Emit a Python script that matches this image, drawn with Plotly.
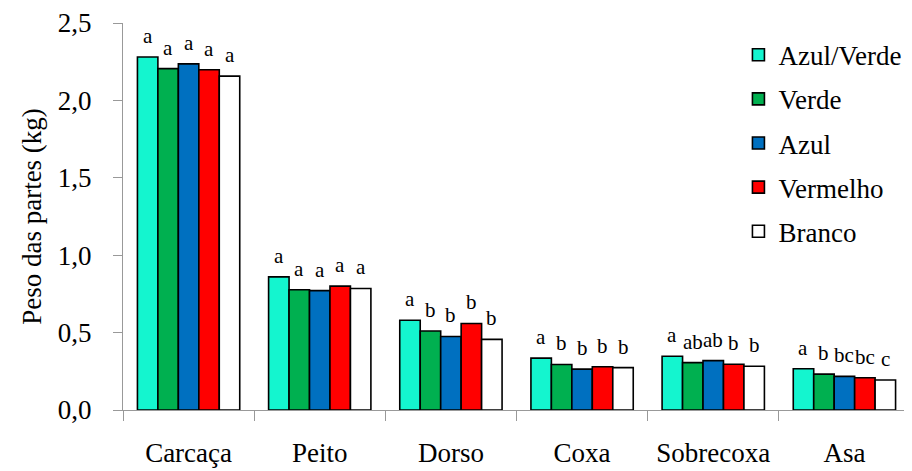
import plotly.graph_objects as go

categories = ["Carcaça", "Peito", "Dorso", "Coxa", "Sobrecoxa", "Asa"]
series_names = ["Azul/Verde", "Verde", "Azul", "Vermelho", "Branco"]
azul_verde = [2.28, 0.86, 0.58, 0.335, 0.347, 0.266]
verde = [2.205, 0.777, 0.51, 0.294, 0.306, 0.232]
azul = [2.236, 0.771, 0.475, 0.264, 0.319, 0.217]
vermelho = [2.198, 0.80, 0.559, 0.279, 0.296, 0.208]
branco = [2.157, 0.785, 0.456, 0.274, 0.283, 0.194]
letters_azul_verde = ["a", "a", "a", "a", "a", "a"]
letters_verde = ["a", "a", "b", "b", "ab", "b"]
letters_azul = ["a", "a", "b", "b", "ab", "bc"]
letters_vermelho = ["a", "a", "b", "b", "b", "bc"]
letters_branco = ["a", "a", "b", "b", "b", "c"]

values = [azul_verde, verde, azul, vermelho, branco]
letters = [letters_azul_verde, letters_verde, letters_azul, letters_vermelho, letters_branco]
colors = ["#14F5CF", "#00B050", "#0070C0", "#FF0000", "#FFFFFF"]

FONT = "Times New Roman, Liberation Serif, serif"
BIG = 27
fig = go.Figure()
for i, (name, vals, col) in enumerate(zip(series_names, values, colors)):
    fig.add_trace(go.Bar(
        name=name, x=categories, y=vals, legendgroup=name,
        marker=dict(color=col, line=dict(color="black", width=1.6)),
    ))

bargap = 0.22
n = len(series_names)
bw = (1 - bargap) / n
for i, (vals, labs) in enumerate(zip(values, letters)):
    off = -(1 - bargap) / 2 + bw * (i + 0.5)
    for j, (v, t) in enumerate(zip(vals, labs)):
        fig.add_annotation(x=j + off, y=v, text=t, showarrow=False,
                           xref="x", yref="y", yanchor="bottom", yshift=7,
                           font=dict(family=FONT, size=21, color="black"))

fig.update_layout(
    width=912, height=471,
    margin=dict(l=115, r=10, t=15, b=69, autoexpand=False),
    paper_bgcolor="white", plot_bgcolor="white",
    barmode="group", bargap=bargap, bargroupgap=0,
    separators=",.",
    font=dict(family=FONT, size=BIG, color="black"),
    showlegend=True,
    legend=dict(x=0.782, y=0.98, xanchor="left", yanchor="top",
                font=dict(family=FONT, size=BIG), tracegroupgap=6,
                bgcolor="rgba(0,0,0,0)", itemwidth=30),
    xaxis=dict(showline=True, linecolor="#999999", linewidth=1.3,
               ticks="outside", tickson="boundaries", ticklen=10,
               tickcolor="#999999", tickwidth=1.3, automargin=False,
               ticklabelstandoff=18,
               tickfont=dict(family=FONT, size=BIG)),
    yaxis=dict(range=[0, 2.5], dtick=0.5, tickformat=".1f", showgrid=False,
               showline=True, linecolor="#999999", linewidth=1.3,
               ticks="outside", ticklen=9, tickcolor="#999999", tickwidth=1.3,
               ticklabelstandoff=16, ticklabeloverflow="allow",
               tickfont=dict(family=FONT, size=BIG), zeroline=False, automargin=False,
               title=dict(text="Peso das partes (kg)", font=dict(family=FONT, size=BIG), standoff=8)),
)

fig.write_html("out.html")
